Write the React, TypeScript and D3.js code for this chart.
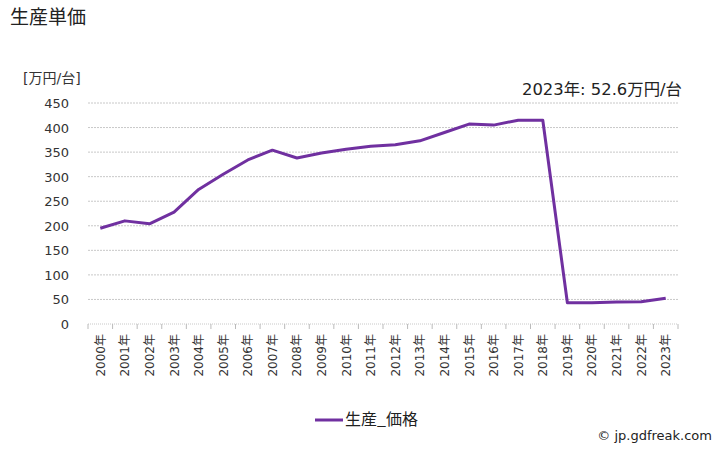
import React from "react";
import * as d3 from "d3";

const years = ["2000","2001","2002","2003","2004","2005","2006","2007","2008","2009","2010","2011","2012","2013","2014","2015","2016","2017","2018","2019","2020","2021","2022","2023"];
const prices = [195,210,204,228,274,305,334,354,338,348,356,362,365,373,390,407,405,415,415,43.4,43.4,44.8,45.2,52.6];
const yTicks = [0,50,100,150,200,250,300,350,400,450];

const W = 728, H = 450;
const left = 88, right = 678, top = 103, bottom = 324;
const font = "'DejaVu Sans', 'Noto Sans CJK JP', sans-serif";
const cjk = "'Noto Sans CJK JP', sans-serif";

export default function App() {
  const x = d3.scaleBand<string>().domain(years).range([left, right]);
  const y = d3.scaleLinear().domain([0, 450]).range([bottom, top]);
  const line = d3.line<number>()
    .x((_, i) => (x(years[i]) as number) + x.bandwidth() / 2)
    .y(d => y(d));
  return (
    <svg width={W} height={H} style={{ position: "absolute", left: 0, top: 0, background: "#fff" }}>
      <text x={10} y={24} fontSize={19} fontFamily={cjk} fill="#222">生産単価</text>
      <text x={23} y={83} fontSize={14} fontFamily={font} fill="#333">[万円/台]</text>
      {yTicks.map(t => (
        <g key={t}>
          <line x1={left} x2={right} y1={y(t)} y2={y(t)} stroke="#c8c8c8" strokeWidth={1} strokeDasharray={t === 0 ? "1,1" : "2,1"} />
          <text x={69} y={y(t) + 5} fontSize={13} fontFamily={font} fill="#333" textAnchor="end">{t}</text>
        </g>
      ))}
      {years.map((yr) => (
        <line key={"t" + yr} x1={x(yr) as number} x2={x(yr) as number} y1={bottom} y2={bottom + 5} stroke="#bbb" />
      ))}
      <line x1={right} x2={right} y1={bottom} y2={bottom + 5} stroke="#bbb" />
      {years.map(yr => {
        const cx = (x(yr) as number) + x.bandwidth() / 2;
        return (
          <text key={yr} transform={`translate(${cx + 4.5},${334}) rotate(-90)`} fontSize={12} fontFamily={font} fill="#333" textAnchor="end">{yr}年</text>
        );
      })}
      <path d={line(prices) || ""} fill="none" stroke="#7030a0" strokeWidth={3} strokeLinejoin="round" />
      <text x={682} y={95} fontSize={16.4} fontFamily={font} fill="#222" textAnchor="end">2023年: 52.6万円/台</text>
      <line x1={315} x2={343} y1={420} y2={420} stroke="#7030a0" strokeWidth={3} />
      <text x={345} y={425} fontSize={16} fontFamily={cjk} fill="#222">生産_価格</text>
      <text x={712} y={440} fontSize={13} fontFamily={font} fill="#222" textAnchor="end">© jp.gdfreak.com</text>
    </svg>
  );
}
